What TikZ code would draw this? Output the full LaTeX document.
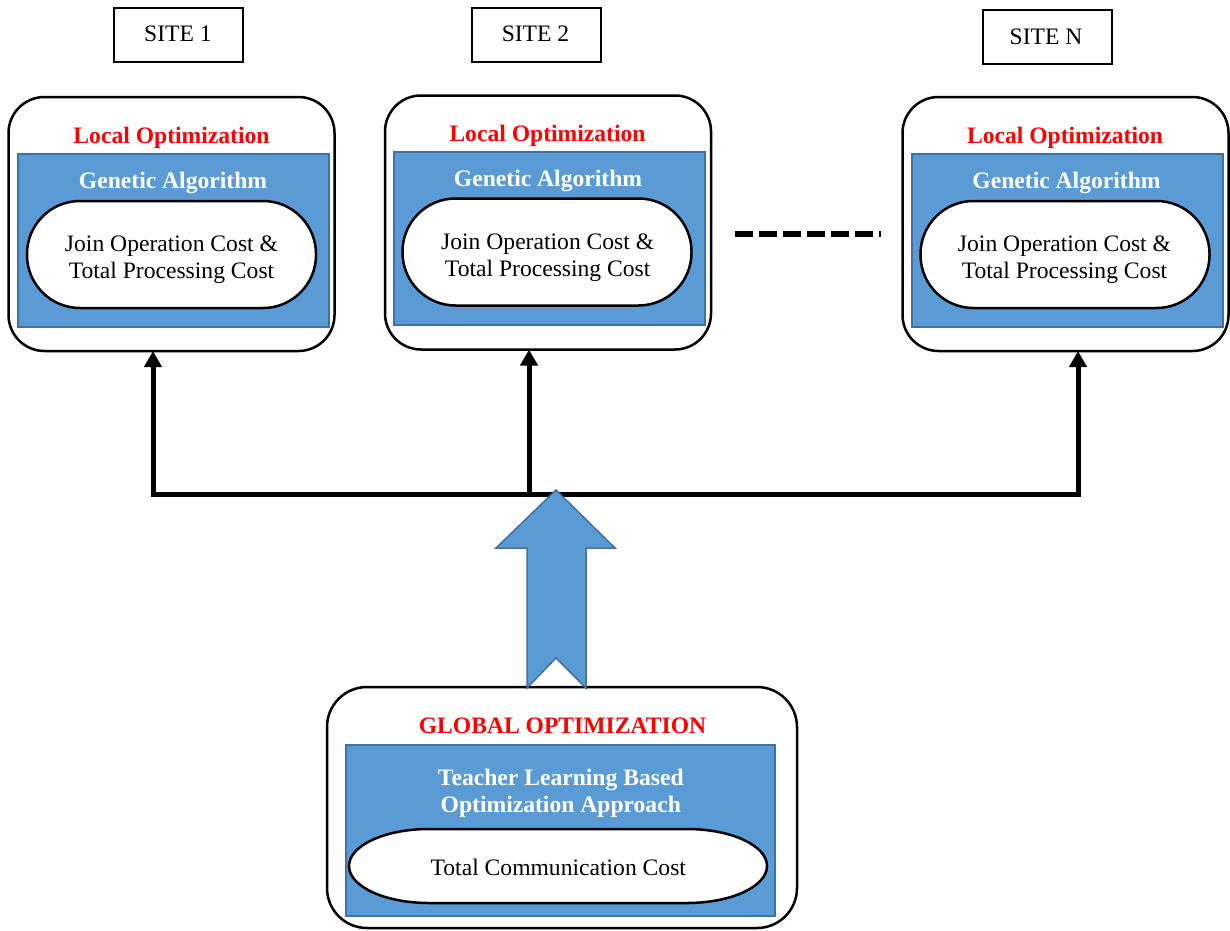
\documentclass[tikz,border=0pt]{standalone}
\usepackage{fontspec}
\setmainfont{Liberation Serif}
\usetikzlibrary{arrows.meta}
\definecolor{msblue}{HTML}{5B9BD5}
\definecolor{msedge}{HTML}{41719C}
\definecolor{msred}{HTML}{FF0000}
\begin{document}
\begin{tikzpicture}[x=1pt,y=-1pt,
  every node/.style={inner sep=0pt, outer sep=0pt},
  txt/.style={anchor=base, font=\fontsize{23.6}{27}\selectfont},
  ttl/.style={anchor=base, text=msred, font=\fontsize{23.6}{27}\selectfont\bfseries},
  algo/.style={anchor=base, text=white, font=\fontsize{23.6}{27}\selectfont\bfseries},
  sitebox/.style={draw, line width=2pt, minimum width=129pt, minimum height=54pt},
  outerbox/.style={draw, line width=2.5pt, rounded corners=36pt, minimum width=326pt, minimum height=254pt},
  bluebox/.style={draw=msedge, fill=msblue, line width=1.5pt, minimum width=311pt, minimum height=173pt},
  stadium/.style={draw, fill=white, line width=2.5pt, rounded corners=53pt, minimum width=289pt, minimum height=107pt},
  feed/.style={line width=5pt, line join=miter, {Triangle[width=17pt,length=16pt]}-{Triangle[width=17pt,length=16pt]}},
  single/.style={line width=5pt, -{Triangle[width=17pt,length=16pt]}},
  bigarrow/.style={draw=msedge, fill=msblue, line width=1.5pt, line join=miter},
  dots/.style={line width=5.5pt, dash pattern=on 18pt off 6pt}
]
\useasboundingbox (0,0) rectangle (1230,930);

% site labels
\node[sitebox] (site1) at (178,34.5) {};
\node[txt] (site1t) at (178,41.7) {SITE 1};
\node[sitebox] (site2) at (536,34.5) {};
\node[txt] (site2t) at (535.5,41.7) {SITE 2};
\node[sitebox] (siteN) at (1047,37) {};
\node[txt] (siteNt) at (1046,44.3) {SITE N};

% local optimization boxes
\node[outerbox] (loc1) at (171.5,224) {};
\node[bluebox] (ga1) at (173.5,240.5) {};
\node[stadium] (st1) at (171.5,254.5) {};
\node[ttl] (lo1) at (171.5,143.5) {Local Optimization};
\node[algo] (gat1) at (173,188) {Genetic Algorithm};
\node[txt] (j1a) at (171.5,251) {Join Operation Cost \&};
\node[txt] (j1b) at (171.5,278) {Total Processing Cost};

\node[outerbox] (loc2) at (548,222.5) {};
\node[bluebox] (ga2) at (549.5,238.5) {};
\node[stadium] (st2) at (547,252) {};
\node[ttl] (lo2) at (547.5,141.5) {Local Optimization};
\node[algo] (gat2) at (548,186.5) {Genetic Algorithm};
\node[txt] (j2a) at (547.7,249.5) {Join Operation Cost \&};
\node[txt] (j2b) at (547.7,276.5) {Total Processing Cost};

\node[outerbox] (loc3) at (1065.5,224) {};
\node[bluebox] (ga3) at (1067.5,240.5) {};
\node[stadium] (st3) at (1065,254.5) {};
\node[ttl] (lo3) at (1065,143.5) {Local Optimization};
\node[algo] (gat3) at (1066.5,188) {Genetic Algorithm};
\node[txt] (j3a) at (1064.5,251) {Join Operation Cost \&};
\node[txt] (j3b) at (1064.5,278) {Total Processing Cost};

% dashed ellipsis between site 2 and site N
\coordinate (d1) at (735,234);
\coordinate (d2) at (881,234);
\draw[dots] (d1) -- (d2);

% global optimization box
\node[outerbox, minimum width=470pt, minimum height=241pt, rounded corners=40pt] (glob) at (562,807.5) {};
\node[bluebox, minimum width=429pt, minimum height=171pt] (tlbo) at (560.5,830.5) {};
\draw[fill=white, line width=2.5pt] (429,829) -- (687,829)
  arc[start angle=-90, end angle=90, x radius=80, y radius=37] -- (429,903)
  arc[start angle=90, end angle=270, x radius=80, y radius=37] -- cycle;
\node[ttl] (gt) at (562.5,733) {GLOBAL OPTIMIZATION};
\node[algo] (tl1) at (560.8,785) {Teacher Learning Based};
\node[algo] (tl2) at (560.8,812) {Optimization Approach};
\node[txt] (tcc) at (558.3,875) {Total Communication Cost};

% distribution bus
\coordinate (h1) at (153,494);
\coordinate (h2) at (529,494);
\coordinate (h3) at (1078,494);
\draw[feed] (h1 |- loc1.south) -- (h1) -- (h3) -- (h3 |- loc3.south);
\draw[single] (h2) -- (h2 |- loc2.south);

% big block arrow from global optimization
\begin{scope}[shift={(556,688)}]
\draw[bigarrow] (-29,0) -- (-29,-140) -- (-60,-140) -- (0,-198) -- (59,-140)
  -- (30,-140) -- (30,0) -- (0,-30) -- cycle;
\end{scope}
\end{tikzpicture}
\end{document}
